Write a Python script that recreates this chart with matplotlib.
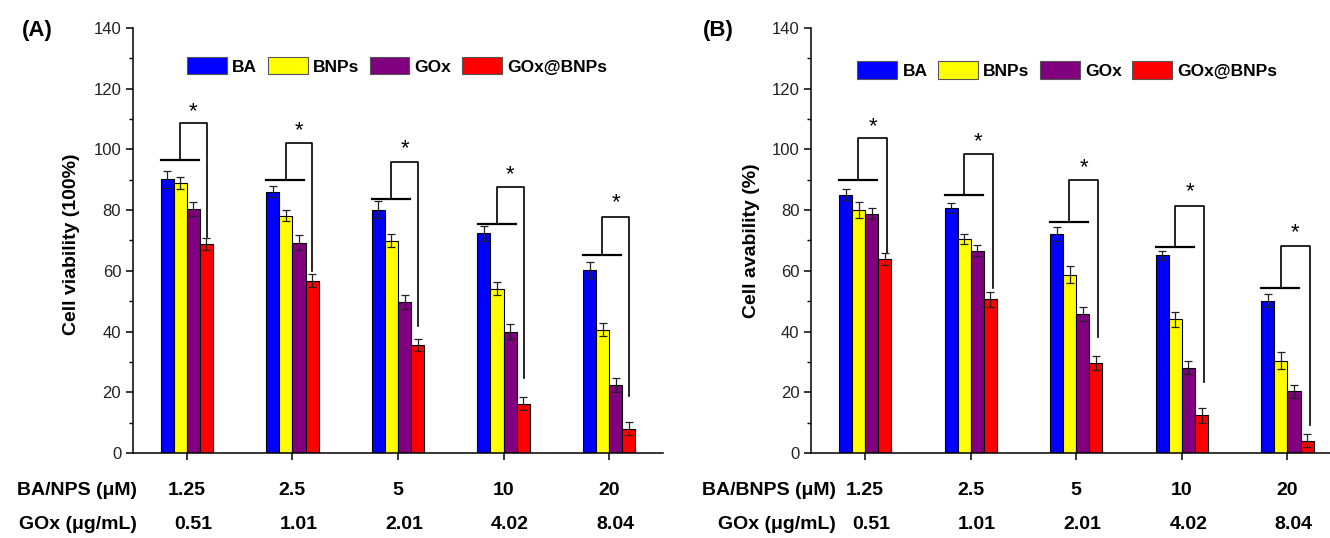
import numpy as np
import matplotlib
matplotlib.use("Agg")
import matplotlib.pyplot as plt
from matplotlib.transforms import blended_transform_factory

plt.rcParams['font.family'] = ['Liberation Sans', 'DejaVu Sans']

# categories
series = ['BA', 'BNPs', 'GOx', 'GOx@BNPs']
colors = ['#0000FF', '#FFFF00', '#800080', '#FF0000']
conc = ['1.25', '2.5', '5', '10', '20']
gox_conc = ['0.51', '1.01', '2.01', '4.02', '8.04']

# panel A values (%)
ba_a = [90.1, 86.0, 80.1, 72.4, 60.3]
bnps_a = [88.9, 78.1, 69.9, 54.1, 40.6]
gox_a = [80.4, 69.3, 49.6, 40.0, 22.4]
goxbnps_a = [68.9, 56.7, 35.6, 16.2, 8.0]
ba_a_err = [2.7, 1.8, 2.8, 2.5, 2.5]
bnps_a_err = [1.9, 1.8, 2.2, 2.2, 2.2]
gox_a_err = [2.2, 2.5, 2.3, 2.5, 2.2]
goxbnps_a_err = [2.0, 2.1, 2.1, 2.2, 2.2]

# panel B values (%)
ba_b = [85.1, 80.7, 72.1, 65.1, 50.2]
bnps_b = [80.0, 70.5, 58.7, 44.0, 30.4]
gox_b = [78.8, 66.7, 45.8, 28.1, 20.3]
goxbnps_b = [63.9, 50.6, 29.5, 12.4, 4.1]
ba_b_err = [1.9, 1.7, 2.3, 1.5, 2.2]
bnps_b_err = [2.7, 1.8, 2.8, 2.4, 2.8]
gox_b_err = [1.8, 1.8, 2.2, 2.2, 2.2]
goxbnps_b_err = [2.0, 2.4, 2.3, 2.4, 2.2]

# significance brackets: base line, top line, end of right leg, star level
brk_a_base = [96.6, 89.8, 83.8, 75.5, 65.1]
brk_a_top = [108.7, 102.2, 96.0, 87.6, 77.7]
brk_a_end = [71.0, 60.0, 41.7, 24.7, 18.9]
brk_a_star = [114.0, 107.9, 101.9, 93.3, 84.0]

brk_b_base = [90.0, 85.1, 76.0, 67.8, 54.5]
brk_b_top = [103.9, 98.5, 90.0, 81.5, 68.1]
brk_b_end = [65.9, 54.5, 38.1, 23.5, 9.3]
brk_b_star = [109.0, 104.2, 95.7, 87.5, 74.1]

W = 0.124
x = np.arange(1, 6)


def draw_panel(ax, vals, errs, base, top, end, star, ylabel, rowlab, tag,
               right_leg, leg_xy, lab_x, tag_x):
    for i, (v, e) in enumerate(zip(vals, errs)):
        ax.bar(x + (i - 1.5) * W, v, W, color=colors[i], edgecolor='black',
               linewidth=0.8, label=series[i], zorder=2)
        ax.errorbar(x + (i - 1.5) * W, v, yerr=e, fmt='none', ecolor='#222222',
                    elinewidth=0.9, capsize=3.2, capthick=0.9, zorder=3)

    for k in range(5):
        c = x[k]
        ax.plot([c - 0.247, c + 0.114], [base[k], base[k]], color='black', lw=1.6)
        ax.plot([c - 0.065, c - 0.065, c + right_leg, c + right_leg],
                [base[k], top[k], top[k], end[k]], color='black', lw=1.2)
        ax.text((c - 0.065 + c + right_leg) / 2, star[k] - 3.4, '*',
                ha='center', va='baseline', fontsize=16)

    ax.set_xlim(0.49, 5.51)
    ax.set_ylim(0, 140)
    ax.set_yticks(np.arange(0, 141, 20))
    ax.set_yticks(np.arange(10, 140, 20), minor=True)
    ax.set_xticks(x)
    ax.set_xticklabels([])
    for s in ['top', 'right']:
        ax.spines[s].set_visible(False)
    for s in ['left', 'bottom']:
        ax.spines[s].set_linewidth(1.1)
    ax.tick_params(axis='both', which='major', length=5, width=1.1,
                   labelsize=12, labelcolor='#222222')
    ax.tick_params(axis='y', which='minor', length=3, width=1.0)
    for t in ax.get_yticklabels():
        t.set_family(['Liberation Sans Narrow', 'Liberation Sans'])
    ax.set_ylabel(ylabel, fontsize=14, fontweight='bold')

    leg = ax.legend(ncol=4, loc='center left', bbox_to_anchor=leg_xy,
                    frameon=False, handlelength=2.3, handleheight=1.15,
                    handletextpad=0.3, columnspacing=0.6, borderpad=0,
                    borderaxespad=0, prop={'weight': 'bold', 'size': 12.5})
    for h in leg.legend_handles:
        h.set_edgecolor('#555555')

    tr = blended_transform_factory(ax.transData, ax.transAxes)
    ax.text(lab_x, -0.089, rowlab, transform=tr, ha='right', va='center',
            fontsize=14, fontweight='bold')
    ax.text(lab_x, -0.169, 'GOx (\u03bcg/mL)', transform=tr, ha='right',
            va='center', fontsize=14, fontweight='bold')
    for k in range(5):
        ax.text(x[k], -0.089, conc[k], transform=tr, ha='center', va='center',
                fontsize=14, fontweight='bold')
        ax.text(x[k] + 0.06, -0.169, gox_conc[k], transform=tr, ha='center',
                va='center', fontsize=14, fontweight='bold')
    ax.text(tag_x, 0.993, tag, transform=ax.transAxes, ha='center', va='center',
            fontsize=16, fontweight='bold')


fig = plt.figure(figsize=(13.3, 5.38), dpi=100)
ax1 = fig.add_axes([0.100, 0.158, 0.3985, 0.790])
ax2 = fig.add_axes([0.610, 0.158, 0.3985, 0.790])

draw_panel(ax1, [ba_a, bnps_a, gox_a, goxbnps_a],
           [ba_a_err, bnps_a_err, gox_a_err, goxbnps_a_err],
           brk_a_base, brk_a_top, brk_a_end, brk_a_star,
           'Cell viability (100%)', 'BA/NPS (\u03bcM)', '(A)',
           0.19, (0.102, 0.911), 0.53, -0.18)
draw_panel(ax2, [ba_b, bnps_b, gox_b, goxbnps_b],
           [ba_b_err, bnps_b_err, gox_b_err, goxbnps_b_err],
           brk_b_base, brk_b_top, brk_b_end, brk_b_star,
           'Cell avability (%)', 'BA/BNPS (\u03bcM)', '(B)',
           0.21, (0.087, 0.901), 0.72, -0.175)
ax1.yaxis.set_label_coords(-0.1, 0.49)
ax2.yaxis.set_label_coords(-0.096, 0.5)

fig.savefig('out.png', dpi=100)
